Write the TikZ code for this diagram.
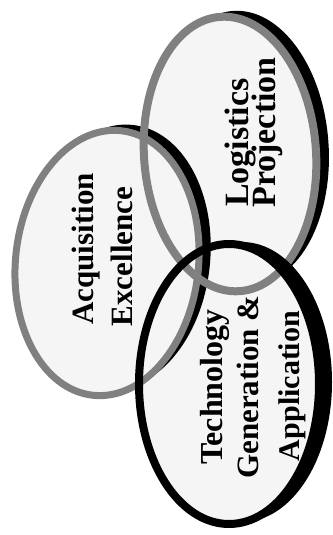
\documentclass[tikz,border=0pt]{standalone}
\usepackage{fontspec}
\setmainfont{Liberation Serif}
\begin{document}
\begin{tikzpicture}[x=1pt,y=1pt,
  lbl/.style={font=\bfseries\fontsize{31}{37}\selectfont, rotate=90, anchor=base, inner sep=0pt, text=black},
  lblbig/.style={lbl, font=\bfseries\fontsize{34}{40}\selectfont},
  lblmid/.style={lbl, font=\bfseries\fontsize{32}{38}\selectfont},
  lblsmall/.style={lbl, font=\bfseries\fontsize{30}{36}\selectfont},
  face/.style={fill=black!4},
  grayring/.style={draw=black!50, line width=7pt},
  blackring/.style={draw=black, line width=8pt},
  shadowfill/.style={fill=black}]
\useasboundingbox (0,0) rectangle (332,535);
\coordinate (cA) at (107,272);
\coordinate (cL) at (230,381);
\coordinate (cT) at (229,151);

% faces
\fill[face, rotate around={-6:(cA)}] (cA) ellipse (91.5 and 133);
\fill[face, rotate around={4:(cL)}] (cL) ellipse (86 and 137.5);
\fill[face] (cT) ellipse (90 and 140);

% Acquisition Excellence
\begin{scope}[rotate around={-6:(cA)}]
  \clip (-300,-300) -- (-300,900) -- (700,900) -- (700,-300) -- cycle (cA) ellipse (91.5 and 133);
  \fill[shadowfill] ([shift={(11,7)}]cA) ellipse (91.5 and 133);
\end{scope}
\draw[grayring, rotate around={-6:(cA)}] (cA) ellipse (91.5 and 133);

% Logistics Projection
\begin{scope}[rotate around={4:(cL)}]
  \clip (-300,-300) -- (-300,900) -- (700,900) -- (700,-300) -- cycle (cL) ellipse (86 and 137.5);
  \fill[shadowfill] ([shift={(13,5)}]cL) ellipse (86 and 137.5);
\end{scope}
\draw[grayring, line width=8pt, rotate around={4:(cL)}] (cL) ellipse (86 and 137.5);

% Technology Generation & Application
\begin{scope}
  \clip (-300,-300) -- (-300,900) -- (700,900) -- (700,-300) -- cycle (cT) ellipse (90 and 140);
  \fill[shadowfill] ([shift={(13,2)}]cT) ellipse (90 and 140);
\end{scope}
\draw[blackring] (cT) ellipse (90 and 140);

% labels (one node per printed line)
\node[lbl] (tA1) at (93,286) {Acquisition};
\node[lbl] (tA2) at (132,278.5) {Excellence};
\node[lblbig] (tL1) at (248,392.5) {Logistics};
\node[lblbig] (tL2) at (275,402.5) {Projection};
\node[lblmid] (tT1) at (222,148) {Technology};
\node[lbl] (tT2) at (258,148) {Generation \&};
\node[lblsmall] (tT3) at (299,149) {Application};
\end{tikzpicture}
\end{document}
